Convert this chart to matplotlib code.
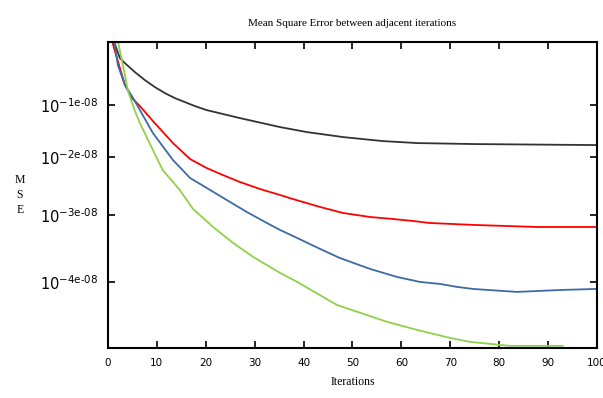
import matplotlib.pyplot as plt

# y values are in plot units (axis runs 0 at bottom to 3.06 at top),
# the original chart has odd irregular log tick labels
black_x = [1.0, 2.45, 3.48, 5.52, 7.57, 9.61, 11.66, 13.7, 15.75, 17.79, 20.2, 27.0, 35.2, 40.7, 48.1, 56.2, 63.2, 75.1, 100]
black_y = [3.10, 2.90, 2.85, 2.76, 2.68, 2.61, 2.55, 2.50, 2.46, 2.42, 2.38, 2.30, 2.21, 2.16, 2.11, 2.07, 2.05, 2.04, 2.03]

red_x = [0.8, 1.43, 2.45, 3.48, 4.91, 6.54, 9.2, 13.3, 16.8, 20.2, 23.5, 27.0, 31.1, 35.2, 37.8, 43.4, 48.1, 53.6, 58.3, 62.4, 65.8, 75.1, 87.7, 100]
red_y = [3.08, 2.97, 2.80, 2.63, 2.50, 2.42, 2.27, 2.05, 1.89, 1.80, 1.73, 1.66, 1.59, 1.53, 1.49, 1.41, 1.35, 1.31, 1.29, 1.27, 1.25, 1.23, 1.21, 1.21]

blue_x = [1.2, 2.04, 3.48, 5.52, 6.54, 9.2, 13.3, 16.8, 20.9, 24.3, 28.4, 32.5, 35.2, 38.7, 43.4, 47.4, 53.6, 59.1, 63.8, 67.9, 71.4, 74.6, 83.6, 93.0, 100]
blue_y = [3.10, 2.83, 2.63, 2.47, 2.38, 2.15, 1.88, 1.70, 1.58, 1.48, 1.36, 1.25, 1.18, 1.10, 0.99, 0.90, 0.79, 0.71, 0.66, 0.64, 0.61, 0.59, 0.56, 0.58, 0.59]

green_x = [2.0, 3.48, 4.1, 5.52, 6.54, 9.2, 11.2, 14.7, 17.4, 21.5, 25.6, 29.7, 35.2, 38.7, 46.8, 57.1, 63.2, 69.9, 74.0, 82.2, 93.0]
green_y = [3.08, 2.73, 2.57, 2.37, 2.25, 1.98, 1.78, 1.58, 1.39, 1.21, 1.05, 0.91, 0.75, 0.66, 0.43, 0.26, 0.18, 0.10, 0.06, 0.02, 0.02]

ytick_pos = [2.43, 1.91, 1.33, 0.66]
ytick_labels = [r'$10^{\mathrm{-1e\text{-}08}}$', r'$10^{\mathrm{-2e\text{-}08}}$',
                r'$10^{\mathrm{-3e\text{-}08}}$', r'$10^{\mathrm{-4e\text{-}08}}$']
xtick_pos = list(range(0, 101, 10))

fig = plt.figure(figsize=(6.03, 3.98), dpi=100)
ax = fig.add_axes([0.179, 0.126, 0.811, 0.768])

ax.plot(black_x, black_y, color='#333333', lw=1.3)
ax.plot(red_x, red_y, color='#ff0000', lw=1.3)
ax.plot(blue_x, blue_y, color='#3d6aa5', lw=1.3)
ax.plot(green_x, green_y, color='#8ed14a', lw=1.3)

ax.set_xlim(0, 100)
ax.set_ylim(0, 3.06)
ax.set_xticks(xtick_pos)
ax.set_xticklabels([str(v) for v in xtick_pos], fontsize=7.5, family='DejaVu Sans')
ax.set_yticks(ytick_pos)
ax.set_yticklabels(ytick_labels, fontsize=10.5, family='DejaVu Sans')
ax.tick_params(direction='in', length=5, width=1.2, top=True, right=True, pad=7)

for s in ax.spines.values():
    s.set_linewidth(1.5)

ax.set_title('Mean Square Error between adjacent iterations', family='Liberation Serif',
             fontsize=8, pad=12)
ax.set_xlabel('Iterations', family='Liberation Serif', fontsize=8.5, labelpad=6)
fig.text(0.033, 0.51, 'M\nS\nE', family='Liberation Serif', fontsize=8.5,
         ha='center', va='center', linespacing=1.3)

fig.savefig('out.png', dpi=100)
